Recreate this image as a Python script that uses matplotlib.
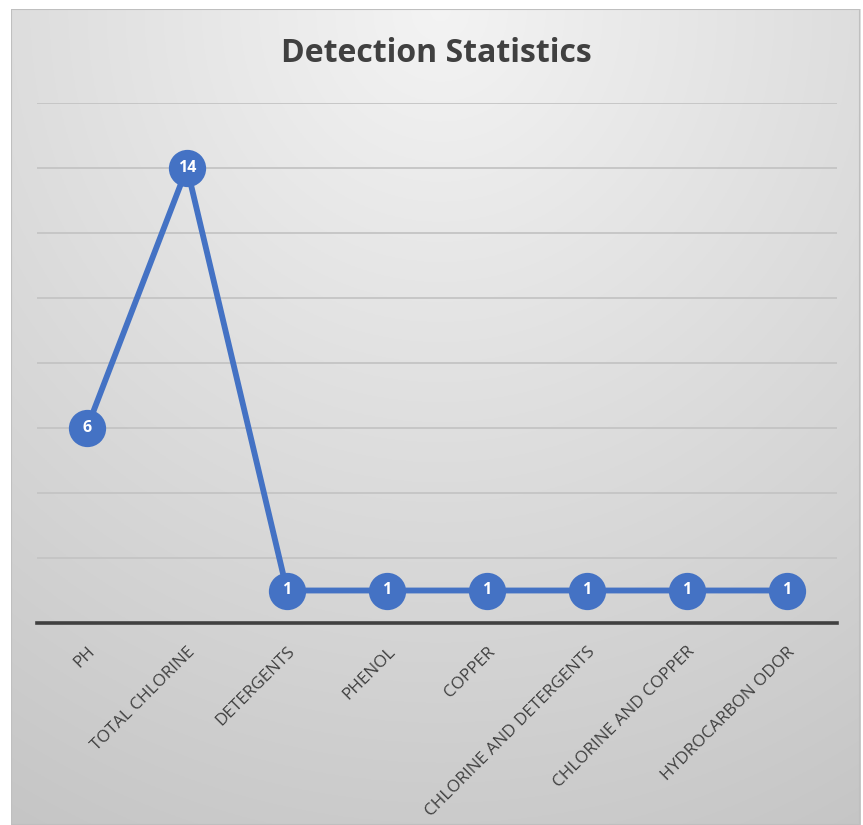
import numpy as np
import matplotlib
matplotlib.use("Agg")
import matplotlib.pyplot as plt
from matplotlib.patches import Rectangle

categories = ["PH", "TOTAL CHLORINE", "DETERGENTS", "PHENOL", "COPPER",
              "CHLORINE AND DETERGENTS", "CHLORINE AND COPPER", "HYDROCARBON ODOR"]
counts = [6, 14, 1, 1, 1, 1, 1, 1]
y_ticks = [0, 2, 4, 6, 8, 10, 12, 14, 16]

W, H = 863, 825
fig = plt.figure(figsize=(W / 100, H / 100), dpi=100)
fig.patch.set_facecolor("white")

# Chart-area backdrop: soft radial gradient inside a thin frame
fx0, fx1, fy0, fy1 = 11, 860, 9, 825
bg = fig.add_axes([fx0 / W, 1 - fy1 / H, (fx1 - fx0) / W, (fy1 - fy0) / H])
bg.set_axis_off()
gx, gy = np.meshgrid(np.linspace(fx0, fx1, 400), np.linspace(fy0, fy1, 400))
r = np.hypot(gx - 440, (gy - 10) * 0.95)
shade = 0.955 - 0.185 * np.clip(r / 900, 0, 1)
bg.imshow(np.dstack([shade] * 3), extent=[0, 1, 0, 1], aspect="auto", origin="upper")
bg.add_patch(Rectangle((0, 0), 1, 1, transform=bg.transAxes, fill=False,
                       edgecolor="#bfbfbf", linewidth=1.5))
bg.set_xlim(0, 1)
bg.set_ylim(0, 1)

# Plot area
px0, px1, py_top, py_bot = 37, 837, 103, 623
ax = fig.add_axes([px0 / W, 1 - py_bot / H, (px1 - px0) / W, (py_bot - py_top) / H])
ax.patch.set_alpha(0)
x = np.arange(len(categories))
ax.set_xlim(-0.5, len(categories) - 0.5)
ax.set_ylim(y_ticks[0], y_ticks[-1])

for t in y_ticks[1:]:
    ax.axhline(t, color="#c4c4c4", linewidth=1.3, zorder=1)
ax.axhline(0, color="#404040", linewidth=2.6, zorder=2, clip_on=False)

blue = "#4472C4"
ax.plot(x, counts, color=blue, linewidth=4.2, zorder=3, solid_capstyle="round")
ax.scatter(x, counts, s=720, color=blue, zorder=4, linewidths=0)
for xi, v in zip(x, counts):
    ax.text(xi, v, str(v), ha="center", va="center", color="white",
            fontsize=11.5, fontweight="bold", family="Open Sans", zorder=5)

for s in ax.spines.values():
    s.set_visible(False)
ax.set_yticks([])
ax.set_xticks(x)
ax.set_xticklabels(categories, rotation=45, ha="right", rotation_mode="anchor",
                   fontsize=12.3, color="#404040", family="Open Sans")
ax.tick_params(axis="x", length=0, pad=15)

fig.text(436 / W, 1 - 53 / H, "Detection Statistics", ha="center", va="center",
         fontsize=23, fontweight="bold", color="#404040", family="Open Sans")

fig.savefig("out.png", dpi=100)
